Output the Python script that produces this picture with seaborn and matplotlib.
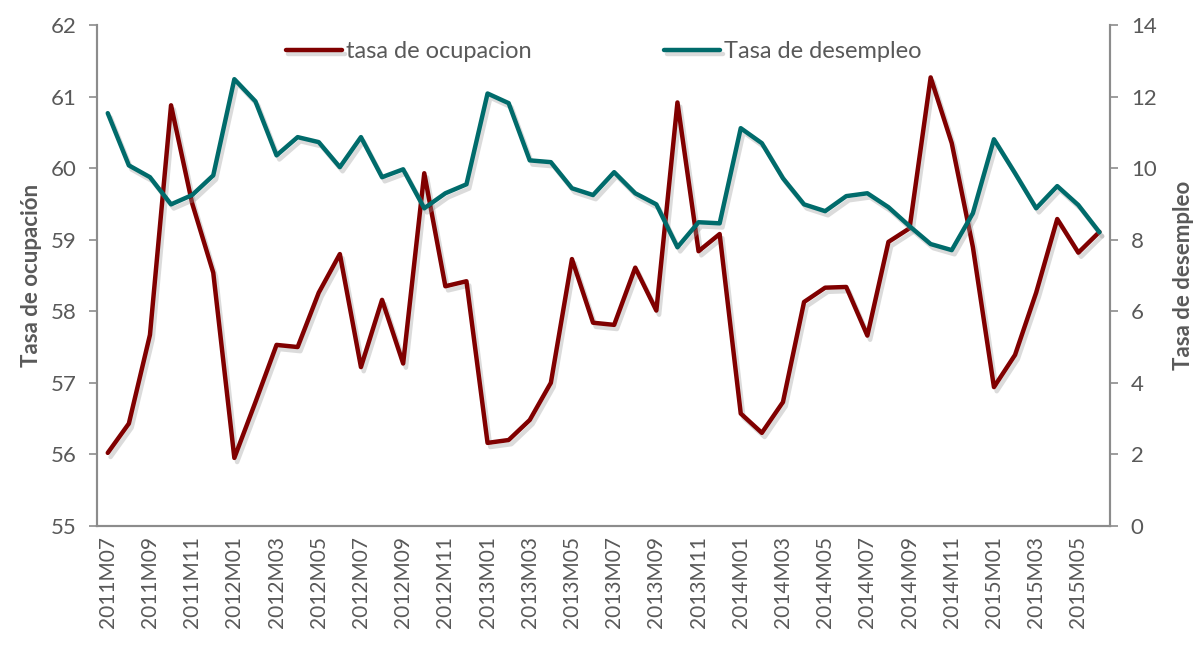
import matplotlib
matplotlib.use("Agg")
import matplotlib.pyplot as plt
import matplotlib.patheffects as pe
import seaborn as sns
import pandas as pd
import numpy as np

# monthly periods, 2011M07 .. 2015M06
periodos = [f"{y}M{m:02d}" for y in range(2011, 2016) for m in range(1, 13)]
periodos = periodos[6:54]

tasa_ocupacion = [
    56.02, 56.43, 57.67, 60.88, 59.51, 58.54, 55.95, 56.73, 57.53, 57.50,
    58.26, 58.80, 57.22, 58.16, 57.27, 59.93, 58.35, 58.42, 56.16, 56.20,
    56.48, 57.00, 58.73, 57.84, 57.81, 58.61, 58.01, 60.92, 58.84, 59.08,
    56.57, 56.30, 56.73, 58.13, 58.33, 58.34, 57.66, 58.97, 59.16, 61.27,
    60.35, 58.90, 56.94, 57.39, 58.26, 59.29, 58.82, 59.11,
]

tasa_desempleo = [
    11.54, 10.08, 9.75, 8.99, 9.25, 9.80, 12.49, 11.87, 10.36, 10.87,
    10.73, 10.03, 10.87, 9.75, 9.97, 8.88, 9.30, 9.55, 12.09, 11.82,
    10.22, 10.17, 9.44, 9.25, 9.89, 9.30, 8.99, 7.79, 8.49, 8.46,
    11.12, 10.70, 9.72, 8.99, 8.80, 9.22, 9.30, 8.91, 8.38, 7.88,
    7.71, 8.74, 10.81, 9.86, 8.88, 9.50, 8.97, 8.21,
]

df = pd.DataFrame({
    "idx": np.arange(len(periodos)),
    "periodo": periodos,
    "ocupacion": tasa_ocupacion,
    "desempleo": tasa_desempleo,
})

sns.set_style("white")
plt.rcParams["font.family"] = ["Lato", "DejaVu Sans"]

RED = "#800000"
TEAL = "#006b6b"
GREY = "#595959"
AXIS = "#8c8c8c"

shadow = [pe.SimpleLineShadow(offset=(2, -3), shadow_color="#999999", alpha=0.35),
          pe.Normal()]

fig = plt.figure(figsize=(12, 6.46), dpi=100)
ax = fig.add_axes([0.081, 0.186, 0.844, 0.775])
ax2 = ax.twinx()

sns.lineplot(data=df, x="idx", y="ocupacion", ax=ax, color=RED, lw=3.2,
             label="tasa de ocupacion", legend=False, path_effects=shadow)
sns.lineplot(data=df, x="idx", y="desempleo", ax=ax2, color=TEAL, lw=3.2,
             label="Tasa de desempleo", legend=False, path_effects=shadow)

ax.set_ylim(55, 62)
ax.set_yticks(range(55, 63))
ax2.set_ylim(0, 14)
ax2.set_yticks(range(0, 15, 2))

n = len(periodos)
ax.set_xlim(-0.5, n - 0.5)
ax.set_xticks(np.arange(-0.5, n, 1.0))
ax.set_xticklabels([])
ax.set_xticks(np.arange(0, n, 2), minor=True)
ax.set_xticklabels(periodos[::2], minor=True, rotation=90, fontsize=15, color=GREY)
ax.tick_params(axis="x", which="major", direction="out", length=6, color=AXIS, width=1.2)
ax.tick_params(axis="x", which="minor", length=0, pad=7)

ax.tick_params(axis="y", direction="out", length=6, color=AXIS, width=1.2,
               labelsize=16, labelcolor=GREY, pad=9)
ax2.tick_params(axis="y", direction="out", length=6, color=AXIS, width=1.2,
                labelsize=16, labelcolor=GREY, pad=9)

ax.set_xlabel("")
ax.set_ylabel("Tasa de ocupación", fontsize=16, fontweight="bold", color=GREY, labelpad=6)
ax2.set_ylabel("Tasa de desempleo", fontsize=16, fontweight="bold", color=GREY, labelpad=12)

for a in (ax, ax2):
    a.spines["top"].set_visible(False)
    for s in ("left", "right", "bottom"):
        a.spines[s].set_color(AXIS)
        a.spines[s].set_linewidth(1.5)
    a.grid(False)

h1, l1 = ax.get_legend_handles_labels()
h2, l2 = ax2.get_legend_handles_labels()
ax.legend(h1 + h2, l1 + l2, loc="upper center", bbox_to_anchor=(0.5, 1.01),
          ncol=2, frameon=False, fontsize=17, handlelength=2.4, handletextpad=0.15,
          columnspacing=5.6, labelcolor=GREY)

fig.savefig("out.png", dpi=100)
